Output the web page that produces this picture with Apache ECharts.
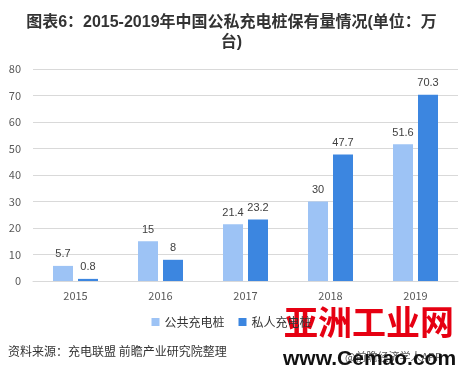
<!DOCTYPE html>
<html><head><meta charset="utf-8">
<script src="https://cdn.jsdelivr.net/npm/echarts@6/dist/echarts.min.js"></script>
<style>html,body{margin:0;padding:0;background:#fff}#c{width:463px;height:375px}</style>
</head><body><div id="c"></div>
<script>
const categories = ['2015','2016','2017','2018','2019'];
const publicPiles = [5.7, 15, 21.4, 30, 51.6];
const privatePiles = [0.8, 8, 23.2, 47.7, 70.3];
const yTicks = [0,10,20,30,40,50,60,70,80];

const chart = echarts.init(document.getElementById('c'));
const font = '"Microsoft YaHei","Noto Sans CJK SC",sans-serif';
chart.setOption({
  animation: false,
  title: {
    text: '图表6：2015-2019年中国公私充电桩保有量情况(单位：万台)',
    left: 'center', top: 8,
    textStyle: { fontSize: 16, fontWeight: 'bold', color: '#333', fontFamily: 'Arial,"Noto Sans CJK SC",sans-serif', width: 426, overflow: 'break', lineHeight: 20, align: 'center' }
  },
  grid: { left: 33, right: 5, top: 69, bottom: 94 },
  legend: {
    bottom: 42, left: 'center', itemWidth: 8, itemHeight: 8, itemGap: 14,
    icon: 'rect',
    textStyle: { fontSize: 12, color: '#333', fontFamily: font },
    data: ['公共充电桩','私人充电桩']
  },
  xAxis: {
    type: 'category', data: categories,
    axisLine: { lineStyle: { color: '#d9d9d9' } },
    axisTick: { show: false },
    axisLabel: { fontSize: 11, color: '#595959', margin: 9, fontFamily: font }
  },
  yAxis: {
    type: 'value', min: yTicks[0], max: yTicks[yTicks.length-1], interval: 10,
    axisLine: { show: false }, axisTick: { show: false },
    splitLine: { lineStyle: { color: '#d9d9d9' } },
    axisLabel: { fontSize: 11, color: '#595959', margin: 12, fontFamily: font }
  },
  series: [
    { name: '公共充电桩', type: 'bar', data: publicPiles, barWidth: 20, barGap: '25%',
      itemStyle: { color: '#9dc3f5' },
      label: { show: true, position: 'top', fontSize: 11, color: '#404040', distance: 6 } },
    { name: '私人充电桩', type: 'bar', data: privatePiles, barWidth: 20,
      itemStyle: { color: '#3c86e0' },
      label: { show: true, position: 'top', fontSize: 11, color: '#404040', distance: 6 } }
  ],
  graphic: [
    { type: 'text', left: 8, top: 345, style: { text: '资料来源：充电联盟 前瞻产业研究院整理', fontSize: 12, fill: '#333', fontFamily: font } },
    { type: 'text', left: 345, top: 351, style: { text: '@前瞻经济学人APP', fontSize: 11, fill: '#555', fontFamily: font } },
    { type: 'text', left: 284, top: 305, style: { text: '亚洲工业网', fontSize: 34, fontWeight: 'bold', fill: '#e60012', fontFamily: font } },
    { type: 'text', left: 283, top: 349, style: { text: 'www.Cemao.com', fontSize: 21, fontWeight: 'bold', fill: '#111', fontFamily: 'Arial,sans-serif' } }
  ]
});
</script></body></html>
